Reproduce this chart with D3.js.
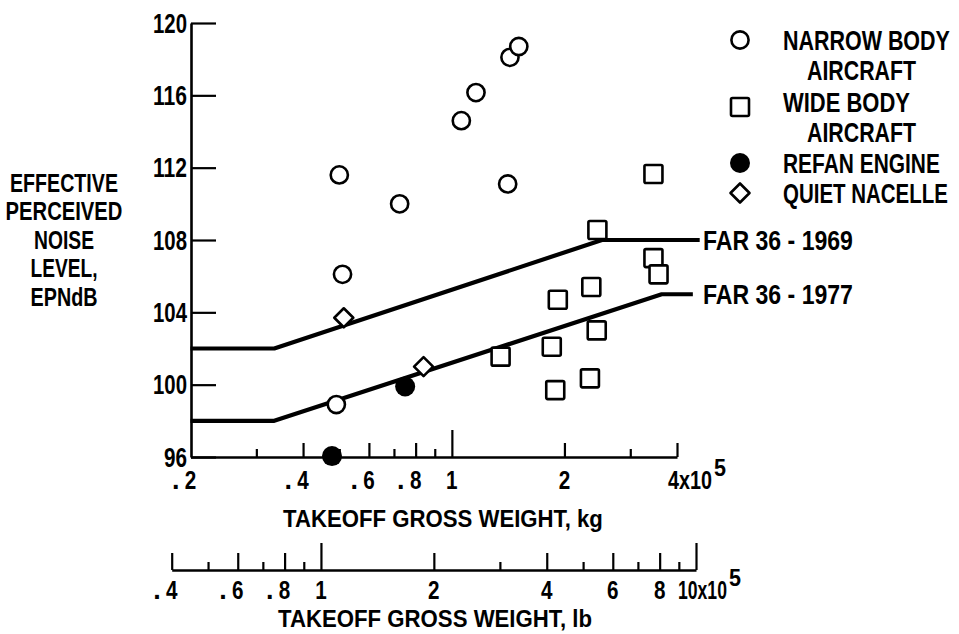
<!DOCTYPE html>
<html>
<head>
<meta charset="utf-8">
<script src="https://cdn.jsdelivr.net/npm/d3@7"></script>
<style>
  html, body { margin: 0; padding: 0; background: #fff; }
  svg { display: block; }
  text { font-family: "Liberation Sans", Arial, sans-serif; font-weight: bold; fill: #000; }
</style>
</head>
<body>
<svg id="chart" width="959" height="634"></svg>
<script>
// ---- data (kg values in units of 10^5 kg, noise in EPNdB) ----
const narrowBodyKg  = [1.43, 1.51, 1.16, 1.06, 0.50, 0.725, 1.41, 0.51, 0.491];
const narrowBodyDb  = [118.1, 118.7, 116.15, 114.6, 111.6, 110.0, 111.1, 106.1, 98.9];
const wideBodyKg    = [2.45, 3.46, 3.46, 3.57, 2.36, 1.92, 1.35, 1.85, 2.44, 1.89, 2.34];
const wideBodyDb    = [108.55, 111.65, 107.0, 106.1, 105.4, 104.7, 101.55, 102.1, 103.0, 99.7, 100.35];
const refanKg       = [0.478, 0.75];
const refanDb       = [96.05, 99.9];
const quietKg       = [0.514, 0.84];
const quietDb       = [103.7, 101.0];

const far1969Kg = [0.2, 0.335, 2.52, 4.6];
const far1969Db = [102, 102, 108, 108];
const far1977Kg = [0.2, 0.335, 3.64, 4.41];
const far1977Db = [98, 98, 105, 105];

const yTicks = [96, 100, 104, 108, 112, 116, 120];
const kgMinor = [0.3, 0.5, 0.7, 0.9, 3];
const kgMedium = [0.4, 0.6, 0.8, 2, 4];
const kgMajor = [1];
const kgLabelValues = [0.2, 0.4, 0.6, 0.8, 1, 2];
const kgLabelText = [".2", ".4", ".6", ".8", "1", "2"];
const lbMinor = [0.5, 0.7, 0.9, 3, 5, 7, 9];
const lbMedium = [0.4, 0.6, 0.8, 2, 4, 6, 8];
const lbMajor = [1, 10];
const lbLabelValues = [0.4, 0.6, 0.8, 1, 2, 4, 6, 8];
const lbLabelText = [".4", ".6", ".8", "1", "2", "4", "6", "8"];

const legendItems = [
  { kind: "circle", lines: ["NARROW BODY", "AIRCRAFT"] },
  { kind: "square", lines: ["WIDE BODY", "AIRCRAFT"] },
  { kind: "filled", lines: ["REFAN ENGINE"] },
  { kind: "diamond", lines: ["QUIET NACELLE"] }
];
const yLabelLines = ["EFFECTIVE", "PERCEIVED", "NOISE", "LEVEL,", "EPNdB"];

// ---- helpers ----
const svg = d3.select("#chart");
// condensed lettering: natural text squeezed horizontally to the reference width
function txt(g, x, yy, s, size, len, anchor) {
  const t = g.append("text").attr("x", 0).attr("y", 0).attr("font-size", size)
    .attr("text-anchor", anchor || "start").text(s);
  let sx = 1;
  if (len) sx = len / t.node().getComputedTextLength();
  t.attr("transform", `translate(${x},${yy}) scale(${sx},1)`);
  return t;
}
const legendLens = { "NARROW BODY": 167, "WIDE BODY": 127, "AIRCRAFT": 109, "REFAN ENGINE": 157, "QUIET NACELLE": 165 };
const yLabelLens = [108, 117, 60, 67, 67];

// ---- scales ----
const y = d3.scaleLinear().domain([96, 120]).range([457, 23]);
const xKg = d3.scaleLog().domain([0.2, 4]).range([190.5, 677]);
const xLb = d3.scaleLog().domain([0.4, 10]).range([171.7, 696]);
const baseKg = 457, baseLb = 570;

// ---- y axis ----
const yAxis = svg.append("g").attr("transform", "translate(191,0)")
  .call(d3.axisLeft(y).tickValues(yTicks).tickSize(-25).tickSizeOuter(0).tickFormat(""));
yAxis.select(".domain").attr("stroke-width", 2.6);
yAxis.selectAll(".tick line").attr("stroke-width", 2.2);
yTicks.forEach(v => txt(svg, 187, y(v) + 9.5, String(v), 27, String(v).length === 3 ? 34 : 23, "end"));

// ---- x axes ----
function tickAxis(scale, yPos, vals, size, withDomain) {
  const g = svg.append("g").attr("transform", `translate(0,${yPos})`)
    .call(d3.axisBottom(scale).tickValues(vals).tickSize(-size).tickSizeOuter(0).tickFormat(""));
  if (!withDomain) g.select(".domain").remove();
  else g.select(".domain").attr("stroke-width", 2.6);
  g.selectAll(".tick line").attr("stroke-width", 2.2);
  return g;
}
function drawLabels(scale, values, texts, baseline) {
  values.forEach((v, i) => {
    const t = texts[i];
    const cx = scale(v);
    const digit = t.startsWith(".") ? t.slice(1) : t;
    txt(svg, cx, baseline, digit, 26, 11.5, "middle");
    if (t.startsWith(".")) txt(svg, cx - 11, baseline, ".", 27, null, "end");
  });
}

tickAxis(xKg, baseKg, kgMedium, 14, true);
tickAxis(xKg, baseKg, kgMinor, 8, false);
tickAxis(xKg, baseKg, kgMajor, 27, false);
drawLabels(xKg, kgLabelValues, kgLabelText, 489);
txt(svg, xKg(4) - 9, 489, "4x10", 26, 44);
txt(svg, xKg(4) + 37, 476, "5", 24, 12);
txt(svg, 443, 527, "TAKEOFF GROSS WEIGHT, kg", 23, 320, "middle");

tickAxis(xLb, baseLb, lbMedium, 17, true);
tickAxis(xLb, baseLb, lbMinor, 8, false);
tickAxis(xLb, baseLb, lbMajor, 27, false);
drawLabels(xLb, lbLabelValues, lbLabelText, 599);
txt(svg, xLb(10) - 18, 599, "10x10", 26, 49);
txt(svg, xLb(10) + 33, 586, "5", 24, 12);
txt(svg, 435, 627, "TAKEOFF GROSS WEIGHT, lb", 23, 314, "middle");

// ---- y label ----
yLabelLines.forEach((s, i) => txt(svg, 64, 192 + i * 28.4, s, 25, yLabelLens[i], "middle"));

// ---- FAR lines ----
const line = d3.line().x(d => xKg(d[0])).y(d => y(d[1]));
[[far1969Kg, far1969Db, "FAR 36 - 1969"], [far1977Kg, far1977Db, "FAR 36 - 1977"]].forEach(([xs, ys, lab]) => {
  const pts = xs.map((v, i) => [v, ys[i]]);
  svg.append("path").attr("d", line(pts)).attr("fill", "none").attr("stroke", "#000")
    .attr("stroke-width", 4.2).attr("stroke-linejoin", "round");
  txt(svg, 703, y(ys[ys.length - 1]) + 10, lab, 27, 150);
});

// ---- markers ----
const sw = 2.6;
function circle(g, cx, cy, filled) {
  g.append("circle").attr("cx", cx).attr("cy", cy).attr("r", filled ? 10 : 8.6)
    .attr("fill", filled ? "#000" : "#fff").attr("stroke", "#000").attr("stroke-width", filled ? 0 : sw);
}
function square(g, cx, cy) {
  g.append("rect").attr("x", cx - 9).attr("y", cy - 9).attr("width", 18).attr("height", 18)
    .attr("rx", 1.5).attr("fill", "#fff").attr("stroke", "#000").attr("stroke-width", sw);
}
function diamond(g, cx, cy) {
  const h = 9.5;
  g.append("path").attr("d", `M${cx},${cy - h}L${cx + h},${cy}L${cx},${cy + h}L${cx - h},${cy}Z`)
    .attr("fill", "#fff").attr("stroke", "#000").attr("stroke-width", sw).attr("stroke-linejoin", "round");
}
const marks = svg.append("g");
narrowBodyKg.forEach((v, i) => circle(marks, xKg(v), y(narrowBodyDb[i]), false));
wideBodyKg.forEach((v, i) => square(marks, xKg(v), y(wideBodyDb[i])));
quietKg.forEach((v, i) => diamond(marks, xKg(v), y(quietDb[i])));
refanKg.forEach((v, i) => circle(marks, xKg(v), y(refanDb[i]), true));

// ---- legend ----
const leg = svg.append("g");
const legY = [40, 107, 163, 193];
const legTextY = [50, 112, 173, 203];
legendItems.forEach((it, i) => {
  const cy = legY[i];
  if (it.kind === "circle") circle(leg, 740, cy, false);
  if (it.kind === "square") square(leg, 740, cy);
  if (it.kind === "filled") circle(leg, 740, cy, true);
  if (it.kind === "diamond") diamond(leg, 740, cy);
  it.lines.forEach((s, j) => txt(leg, j === 0 ? 783 : 807, legTextY[i] + j * 30, s, 27, legendLens[s]));
});
</script>
</body>
</html>
